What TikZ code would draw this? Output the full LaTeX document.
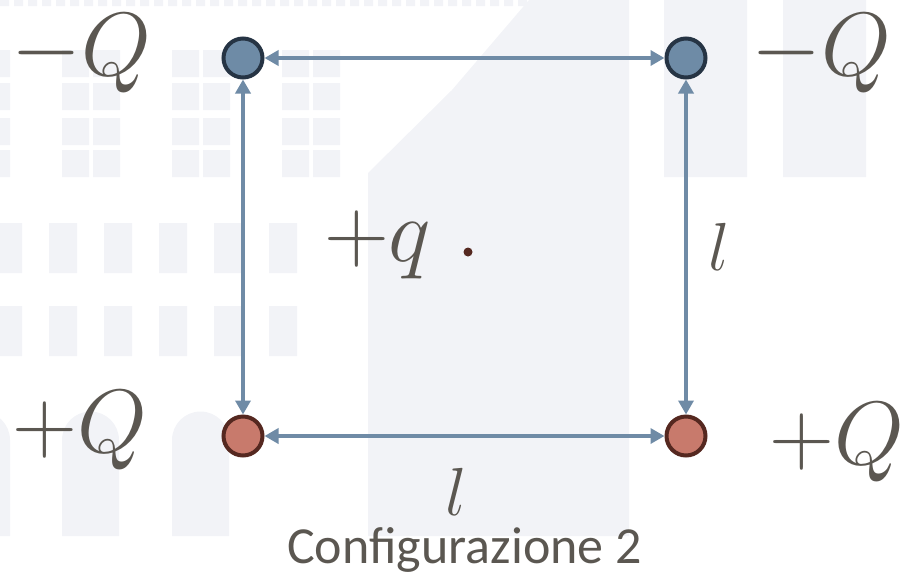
\RequirePackage{fix-cm}
\documentclass[tikz,border=0pt]{standalone}
\usepackage{fontspec}
\newfontfamily\capfont{Carlito}
\usepackage{tikz}
\usetikzlibrary{arrows.meta,positioning,calc}
\definecolor{wmgray}{RGB}{242,243,247}
\definecolor{linkblue}{RGB}{111,139,166}
\definecolor{negfill}{RGB}{110,139,166}
\definecolor{negedge}{RGB}{38,52,68}
\definecolor{posfill}{RGB}{200,122,108}
\definecolor{posedge}{RGB}{85,40,32}
\definecolor{txtgray}{RGB}{91,87,81}

\begin{document}
\begin{tikzpicture}[x=1pt, y=-1pt, >={Triangle[length=14pt,width=15pt]},
  negq/.style={circle, draw=negedge, fill=negfill, line width=4pt, minimum size=39pt, inner sep=0pt},
  posq/.style={circle, draw=posedge, fill=posfill, line width=4pt, minimum size=39pt, inner sep=0pt},
  link/.style={<->, draw=linkblue, line width=4pt},
  chg/.style={text=txtgray, inner sep=0pt, font=\fontsize{90}{100}\selectfont},
  len/.style={text=txtgray, inner sep=0pt, font=\fontsize{68}{76}\selectfont}]
  \useasboundingbox (0,0) rectangle (904,576);
  % faint building in the background
  \begin{scope}[wmgray]
    \fill foreach \x in {0,14,...,520} {(\x,0) rectangle ++(9,6)};
    \foreach \gx in {-48,62,172,282}
      \foreach \wx in {0,31}
        \fill (\gx+\wx,50) rectangle ++(27,27) (\gx+\wx,83) rectangle ++(27,27)
              (\gx+\wx,118) rectangle ++(27,27) (\gx+\wx,150) rectangle ++(27,27);
    \foreach \x in {-6,49,...,323}
      \fill (\x,223) rectangle ++(28,50) (\x,306) rectangle ++(28,50);
    \foreach \x in {-47,62,172}
      \fill (\x,536) -- (\x,440) arc[start angle=180, end angle=0, radius=28.5pt] -- (\x+57,536) -- cycle;
    \fill (368,536) -- (368,173) -- (452,90) -- (529,0) -- (629,0) -- (629,536) -- cycle;
    \fill (664,0) rectangle (747,177) (783,0) rectangle (866,177);
  \end{scope}

  \node[negq] (qa) at (243,58) {};
  \node[negq, on grid, right=443pt of qa] (qb) {};
  \node[posq, on grid, below=378pt of qa] (qc) {};
  \node[posq, on grid, below=378pt of qb] (qd) {};
  \node[circle, fill=posedge, minimum size=9pt, inner sep=0pt] (qt) at ($(qa)!.5!(qd)$) [xshift=3.5pt, yshift=-5pt] {};

  \node[chg, left=70pt of qa, yshift=5pt] (la) {$-Q$};
  \node[chg, right=44pt of qb, yshift=5pt] (lb) {$-Q$};
  \node[chg, left=74pt of qc, yshift=6pt] (lc) {$+Q$};
  \node[chg, right=62pt of qd, yshift=-6pt] (ld) {$+Q$};
  \node[chg, left=32pt of qt, yshift=7pt] (lt) {$+q$};

  \draw[link] (qa) -- (qb);
  \draw[link] (qa) -- (qc);
  \draw[link] (qb) -- node[len, right=20pt] (lr) {$l$} (qd);
  \draw[link] (qc) -- node[len, pos=.48, below=30pt] (lbot) {$l$} (qd);

  \coordinate (mid) at ($(qc)!.5!(qd)$);
  \node[text=txtgray, inner sep=0pt, anchor=base, font=\capfont\fontsize{52}{58}\selectfont] (cap) at ([yshift=-127pt]mid) {Configurazione 2};
\end{tikzpicture}
\end{document}
